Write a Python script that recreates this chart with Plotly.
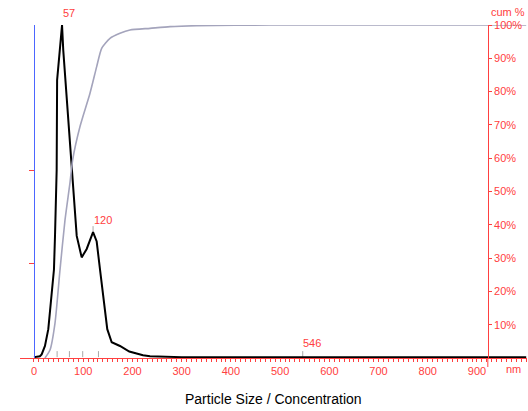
import plotly.graph_objects as go

# ---- data ----
size_nm = [0, 12, 15.6, 22.3, 29.1, 36.0, 40.6, 42.7, 46.1, 47.0, 52, 57, 59.5, 66.4, 73.1,
           78.6, 79.8, 86.8, 96.9, 107.1, 120, 127.4, 134.1, 142.2, 148.9, 157.9, 174.7,
           193.6, 221.5, 235.7, 300, 500, 700, 900, 1000]
conc = [0, 0.01, 0.03, 0.12, 0.30, 0.66, 0.94, 1.30, 2.01, 2.97, 3.30, 3.56, 3.29, 2.76, 2.33,
        1.90, 1.73, 1.30, 1.07, 1.16, 1.34, 1.24, 0.94, 0.59, 0.30, 0.16, 0.12,
        0.06, 0.02, 0.01, 0, 0, 0, 0, 0]

cum_nm = [22.3, 32.5, 42.7, 52.8, 63.0, 73.1, 78.6, 93.5, 113.8, 127.4, 137.5, 154.4,
          174.7, 195.0, 235.7, 276.3, 330.6, 479.5, 700, 1000]
cum_pct = [0, 2.4, 10.5, 26.4, 41.4, 52.6, 59.5, 69.5, 79.5, 87.5, 93.0, 96.0,
           97.5, 98.5, 99.0, 99.5, 99.8, 100, 100, 100]

peak_labels = ["57", "120"]
peak_nm = [57, 120]
peak_conc = [3.56, 1.34]
mode_nm = [546]
mark_nm = [47, 72, 99, 131]

xtick_major = list(range(0, 901, 100))
xtick_minor = list(range(10, 1001, 10))
ytick2 = list(range(10, 101, 10))

RED = "#ff4040"
FONT = "Liberation Sans, Arial, Helvetica, sans-serif"

XMIN, XMAX = -28.4, 1001.6
RIGHT_AXIS_NM = 922
TICK_H = 0.065
YOFF = 0.009
YMAX = 3.5615

fig = go.Figure()

# cumulative curve
fig.add_trace(go.Scatter(x=cum_nm, y=cum_pct, mode="lines", yaxis="y2",
                         line=dict(color="#a4a4bc", width=1.6, shape="spline", smoothing=0.6),
                         hoverinfo="skip"))

# small gray marks on x axis and above the peaks
mx, my = [], []
for v in mark_nm + mode_nm:
    mx += [v, v, None]
    my += [0, TICK_H, None]
for v, c in zip(peak_nm, peak_conc):
    mx += [v, v, None]
    my += [c, c + TICK_H, None]
fig.add_trace(go.Scatter(x=mx, y=my, mode="lines", line=dict(color="#a8a8a8", width=1),
                         hoverinfo="skip", cliponaxis=False))

# concentration curve
fig.add_trace(go.Scatter(x=size_nm, y=conc, mode="lines",
                         line=dict(color="black", width=2), hoverinfo="skip"))

fig.update_layout(
    width=528, height=411,
    margin=dict(l=20, r=1, t=25, b=53),
    plot_bgcolor="white", paper_bgcolor="white",
    showlegend=False,
    font=dict(family=FONT, size=11, color=RED),
    xaxis=dict(range=[XMIN, XMAX], showgrid=False, zeroline=False,
               showline=True, linecolor=RED, linewidth=1,
               tickmode="array", tickvals=xtick_major,
               ticktext=[str(v) for v in xtick_major],
               ticks="outside", ticklen=3, tickcolor=RED, tickwidth=1,
               minor=dict(tickmode="array", tickvals=xtick_minor, ticks="outside",
                          ticklen=3, tickcolor=RED, tickwidth=1, showgrid=False),
               tickfont=dict(color=RED, size=11, family=FONT),
               layer="below traces"),
    yaxis=dict(range=[-YOFF, YMAX], showgrid=False, zeroline=False,
               anchor="free", position=(0 - XMIN) / (XMAX - XMIN),
               showline=True, linecolor="#4c66ff", linewidth=1,
               tickmode="array", tickvals=[1, 2], ticks="outside", ticklen=5,
               tickcolor=RED, showticklabels=False),
    yaxis2=dict(range=[0, 100], overlaying="y", side="right", anchor="free",
                position=(RIGHT_AXIS_NM - XMIN) / (XMAX - XMIN),
                showgrid=False, zeroline=False, showline=True, linecolor=RED,
                linewidth=1, tickmode="array", tickvals=ytick2,
                ticktext=[f"{v}%" for v in ytick2], ticks="outside", ticklen=3,
                tickcolor=RED, tickfont=dict(color=RED, size=11, family=FONT)),
)

# annotations
for lab, x, y in zip(peak_labels, peak_nm, peak_conc):
    fig.add_annotation(x=x, y=y, xref="x", yref="y", text=lab, showarrow=False,
                       xanchor="left", yanchor="bottom", yshift=4, xshift=-1,
                       font=dict(color=RED, size=11, family=FONT))
for v in mode_nm:
    fig.add_annotation(x=v, y=TICK_H, xref="x", yref="y", text=str(v), showarrow=False,
                       xanchor="left", yanchor="bottom", yshift=0, xshift=-2,
                       font=dict(color=RED, size=11, family=FONT))

for i, t in enumerate(["con", "/ml", "E6"]):
    fig.add_annotation(x=15, y=411 - (17 + 12 * i), xref="paper", yref="paper", text=t,
                       showarrow=False, xanchor="left", yanchor="middle",
                       font=dict(color=RED, size=11, family=FONT))

fig.add_annotation(x=RIGHT_AXIS_NM, y=1, xref="x", yref="paper", text="cum %",
                   showarrow=False, xanchor="left", yanchor="bottom", xshift=1, yshift=5,
                   font=dict(color=RED, size=11, family=FONT))
fig.add_annotation(x=1.0, y=0, xref="paper", yref="paper", text="nm",
                   showarrow=False, xanchor="right", yanchor="top", xshift=-4, yshift=-3,
                   font=dict(color=RED, size=11, family=FONT))
fig.add_annotation(x=0.5, y=0, xref="paper", yref="paper", text="Particle Size / Concentration",
                   showarrow=False, xanchor="center", yanchor="middle", yshift=-41,
                   font=dict(color="black", size=14, family=FONT))

# the right axis extends slightly below the baseline
fig.add_shape(type="line", xref="x", yref="paper", x0=RIGHT_AXIS_NM, x1=RIGHT_AXIS_NM,
              y0=0, y1=-0.027, line=dict(color=RED, width=1))

fig.write_html("out.html", config={"displayModeBar": False})
